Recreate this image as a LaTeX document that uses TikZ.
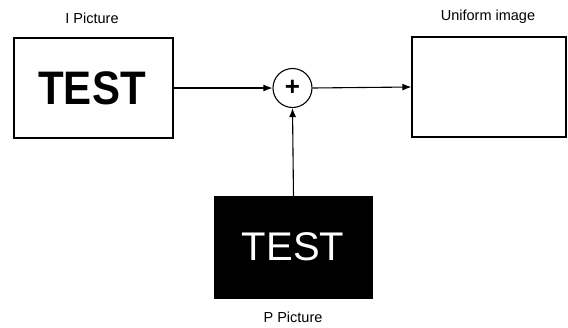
\documentclass[tikz,border=0pt]{standalone}
\usepackage{fontspec}
\setmainfont{Liberation Sans}
\usetikzlibrary{arrows.meta}
\begin{document}
\begin{tikzpicture}[x=1pt,y=-1pt,
  box/.style={draw=black,line width=1.3pt,minimum width=159pt,minimum height=100pt,inner sep=0pt},
  lbl/.style={font=\fontsize{14.5}{16}\selectfont,inner sep=0pt},
  conn/.style={line width=1.1pt,-{Latex[length=9pt,width=7pt]}}]
\useasboundingbox (0,0) rectangle (568,327);
\node[box] (I) at (93.5,88) {};
\node[inner sep=0pt] (It) at (92,88) {\scalebox{1}[1.12]{\fontsize{42}{44}\selectfont\bfseries TEST}};
\node[lbl] (Il) at (92,18) {I Picture};
\node[draw=black,line width=1.1pt,circle,minimum size=39pt,inner sep=0pt] (S) at (292.5,88) {\fontsize{26}{26}\selectfont\bfseries +};
\node[box,minimum width=154pt] (U) at (489,87) {};
\node[lbl] (Ul) at (488,17) {Uniform image};
\node[box,fill=black,minimum width=158pt,minimum height=101pt] (P) at (293.5,247.5) {};
\node[inner sep=0pt,text=white] (Pt) at (293,247) {\fontsize{40}{42}\selectfont TEST};
\node[lbl] (Pl) at (293,317) {P Picture};
\draw[conn] (I.east) -- (S.west);
\draw[conn] (S.east) -- (U.west);
\draw[conn] (P.north) -- (S.south);
\end{tikzpicture}
\end{document}
